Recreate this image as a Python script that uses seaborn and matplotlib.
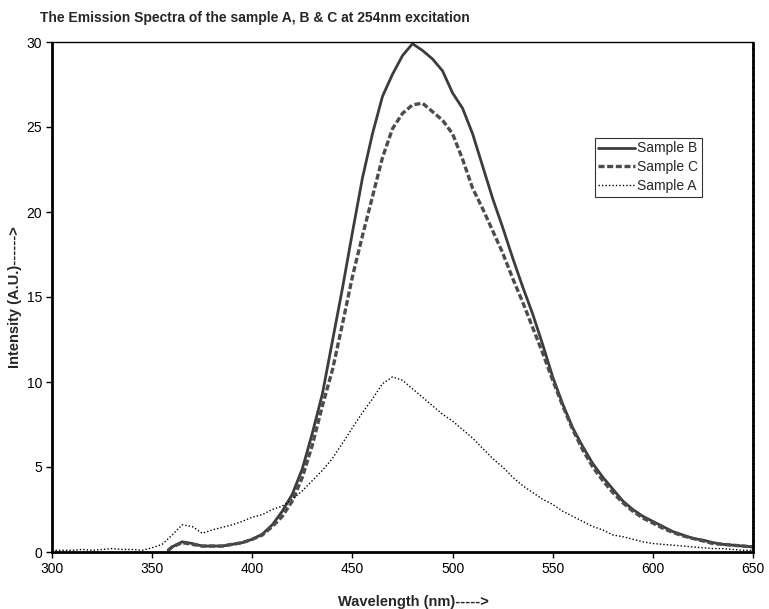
import numpy as np
import pandas as pd
import matplotlib
matplotlib.use("Agg")
import matplotlib.pyplot as plt
import seaborn as sns

# ---- data ----
wl_a = [300, 305, 310, 315, 320, 325, 330, 335, 340, 345, 350, 355, 360, 365, 370, 375,
        380, 385, 390, 395, 400, 405, 410, 415, 420, 425, 430, 435, 440, 445, 450, 455,
        460, 465, 470, 475, 480, 485, 490, 495, 500, 505, 510, 515, 520, 525, 530, 535,
        540, 545, 550, 555, 560, 565, 570, 575, 580, 585, 590, 595, 600, 605, 610, 615,
        620, 625, 630, 635, 640, 645, 650]
sample_a = [0.1, 0.1, 0.1, 0.15, 0.1, 0.15, 0.2, 0.15, 0.15, 0.1, 0.25, 0.45, 1.0, 1.6, 1.5, 1.1,
            1.3, 1.45, 1.6, 1.8, 2.05, 2.2, 2.5, 2.7, 3.1, 3.6, 4.2, 4.8, 5.5, 6.4, 7.3, 8.2,
            9.0, 9.9, 10.3, 10.1, 9.6, 9.1, 8.6, 8.1, 7.7, 7.2, 6.7, 6.1, 5.5, 5.0, 4.4, 3.9,
            3.5, 3.1, 2.8, 2.4, 2.1, 1.8, 1.5, 1.3, 1.0, 0.9, 0.75, 0.6, 0.5, 0.45, 0.4, 0.35,
            0.3, 0.25, 0.2, 0.2, 0.15, 0.1, 0.1]

wl_bc = [358, 360, 365, 370, 375, 380, 385, 390, 395, 400, 405, 410, 415, 420, 425, 430,
         435, 440, 445, 450, 455, 460, 465, 470, 475, 480, 485, 490, 495, 500, 505, 510,
         515, 520, 525, 530, 535, 540, 545, 550, 555, 560, 565, 570, 575, 580, 585, 590,
         595, 600, 605, 610, 615, 620, 625, 630, 635, 640, 645, 650]
sample_b = [0.1, 0.3, 0.6, 0.5, 0.35, 0.35, 0.35, 0.45, 0.55, 0.75, 1.05, 1.6, 2.4, 3.4, 4.9, 7.0,
            9.3, 12.4, 15.5, 18.8, 22.0, 24.6, 26.8, 28.1, 29.2, 29.9, 29.5, 29.0, 28.3, 27.0, 26.1, 24.6,
            22.7, 20.8, 19.1, 17.3, 15.6, 14.0, 12.2, 10.3, 8.7, 7.3, 6.2, 5.2, 4.4, 3.7, 3.0, 2.5,
            2.1, 1.8, 1.5, 1.2, 1.0, 0.8, 0.7, 0.55, 0.45, 0.4, 0.35, 0.3]
sample_c = [0.1, 0.3, 0.55, 0.45, 0.35, 0.35, 0.35, 0.45, 0.55, 0.75, 1.0, 1.5, 2.1, 3.0, 4.4, 6.3,
            8.6, 10.7, 13.4, 16.2, 18.6, 20.9, 23.2, 24.9, 25.8, 26.3, 26.4, 25.9, 25.4, 24.6, 23.1, 21.4,
            20.2, 18.9, 17.6, 16.1, 14.7, 13.2, 11.7, 10.1, 8.6, 7.2, 6.0, 5.0, 4.2, 3.5, 2.9, 2.4,
            2.0, 1.7, 1.4, 1.15, 0.95, 0.8, 0.65, 0.5, 0.45, 0.4, 0.35, 0.3]

x_ticks = [300, 350, 400, 450, 500, 550, 600, 650]
y_ticks = [0, 5, 10, 15, 20, 25, 30]

title = "The Emission Spectra of the sample A, B & C at 254nm excitation"
xlabel = "Wavelength (nm)----->"
ylabel = "Intensity (A.U.)------>"

# ---- plot ----
sns.set_theme(style="white")
plt.rcParams["font.family"] = ["Liberation Sans", "DejaVu Sans"]

fig = plt.figure(figsize=(7.69, 6.09), dpi=100)
ax = fig.add_axes([52 / 769, 1 - 552 / 609, (753 - 52) / 769, (552 - 42) / 609])

df_b = pd.DataFrame({"wl": wl_bc, "val": sample_b})
df_c = pd.DataFrame({"wl": wl_bc, "val": sample_c})
df_a = pd.DataFrame({"wl": wl_a, "val": sample_a})

sns.lineplot(data=df_b, x="wl", y="val", ax=ax, color="#3c3c3c", linewidth=2.0,
             label="Sample B")
sns.lineplot(data=df_c, x="wl", y="val", ax=ax, color="#4c4c4c", linewidth=2.4,
             linestyle=(0, (1.8, 0.8)), label="Sample C")
sns.lineplot(data=df_a, x="wl", y="val", ax=ax, color="black", linewidth=1.0,
             linestyle=(0, (1.0, 1.5)), label="Sample A")

ax.set_xlim(300, 650)
ax.set_ylim(0, 30)
ax.set_xticks(x_ticks)
ax.set_xticklabels([str(t) for t in x_ticks])
ax.set_yticks(y_ticks)
ax.set_yticklabels([str(t) for t in y_ticks])
ax.tick_params(axis="both", direction="out", length=4, width=1, colors="black",
               labelsize=10, pad=3, bottom=True, left=True)

ax.set_xlabel(xlabel, fontsize=10.5, fontweight="bold")
ax.xaxis.set_label_coords((413 - 52) / (753 - 52), -0.085)
ax.set_ylabel(ylabel, fontsize=10.5, fontweight="bold")
ax.yaxis.set_label_coords((22 - 52) / (753 - 52), 0.5)

# Excel-like dotted frame
for side in ["left", "bottom"]:
    ax.spines[side].set_linestyle((0, (1, 1)))
    ax.spines[side].set_linewidth(2.0)
    ax.spines[side].set_color("black")
ax.spines["top"].set_linestyle((0, (1, 1)))
ax.spines["top"].set_linewidth(1.0)
ax.spines["top"].set_color("black")
ax.spines["right"].set_linestyle((0, (1.5, 0.8)))
ax.spines["right"].set_linewidth(2.0)
ax.spines["right"].set_color("black")

fig.text(40 / 769, 1 - 18 / 609, title, fontsize=10, fontweight="bold",
         ha="left", va="center")

leg = ax.legend(loc="upper left", bbox_to_anchor=(595 / 769, 1 - 138 / 609),
                bbox_transform=fig.transFigure, fontsize=10, frameon=True,
                fancybox=False, shadow=False, borderaxespad=0, borderpad=0.25,
                handlelength=2.6, handletextpad=0.2, labelspacing=0.35)
leg.get_frame().set_edgecolor("black")
leg.get_frame().set_linewidth(0.8)

fig.savefig("out.png", dpi=100)
